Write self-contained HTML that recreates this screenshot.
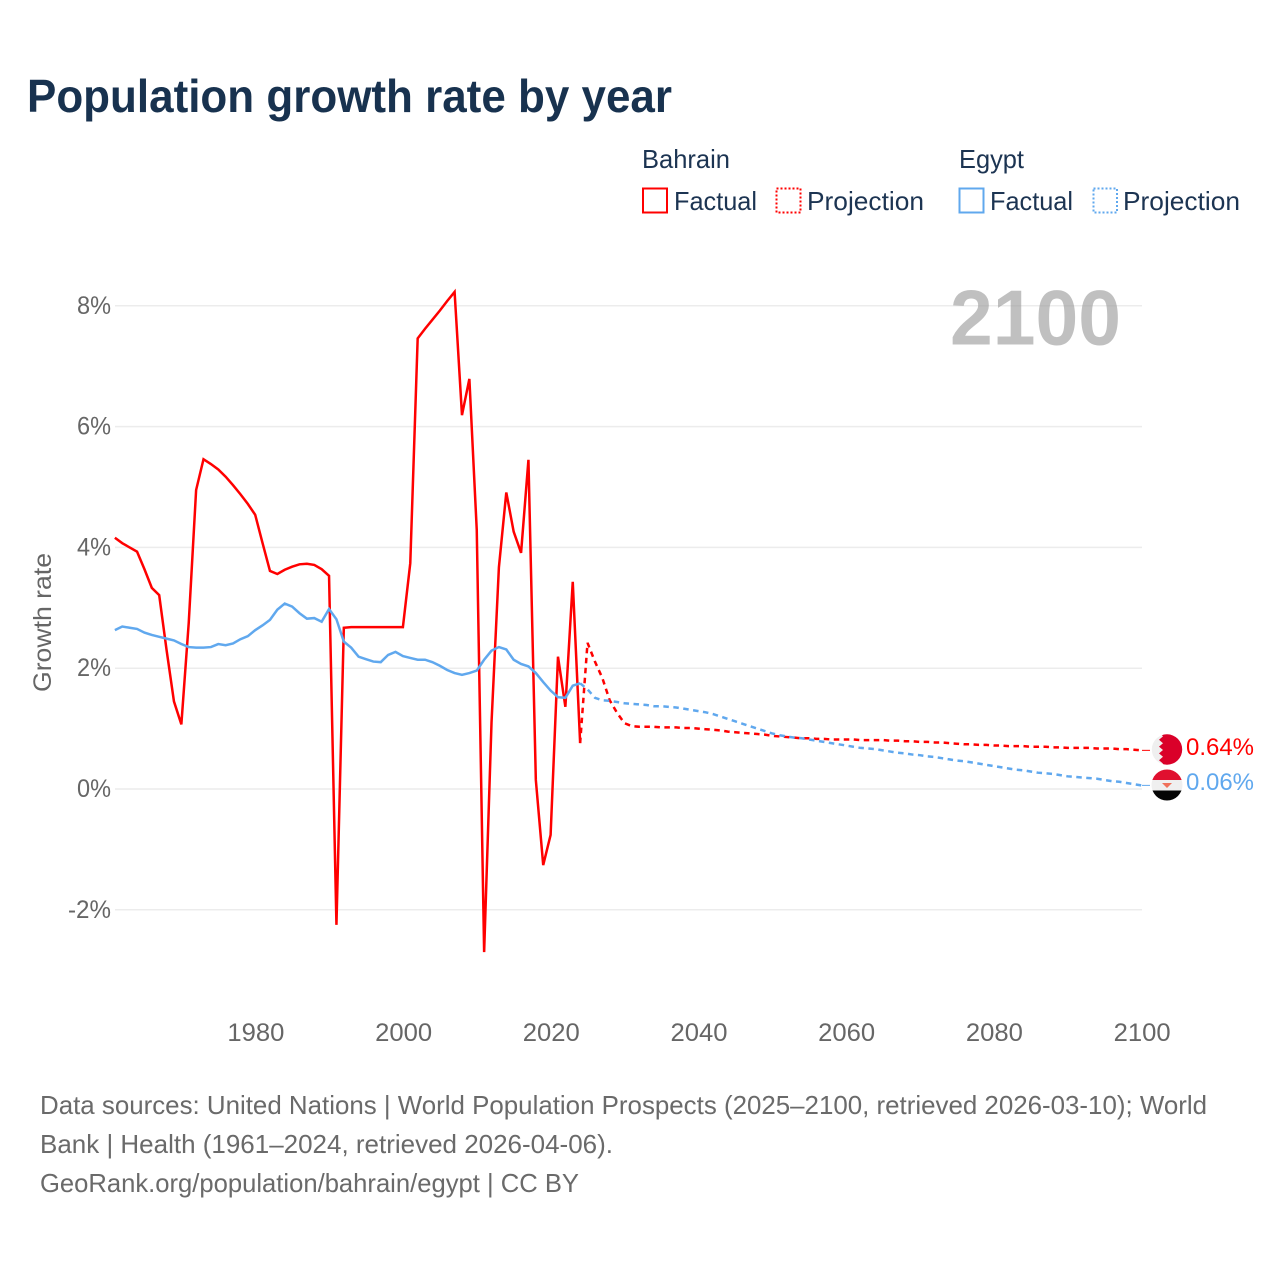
<!DOCTYPE html>
<html lang="en">
<head>
<meta charset="utf-8">
<title>Population growth rate by year</title>
<style>
html,body{margin:0;padding:0;background:#fff;}
svg{display:block;}
text{font-family:"Liberation Sans",sans-serif;}
</style>
</head>
<body>
<svg id="chart" xmlns="http://www.w3.org/2000/svg" width="1280" height="1280" viewBox="0 0 1280 1280">
  <rect x="0" y="0" width="1280" height="1280" fill="#fff"/>
  <text x="27" y="112" font-size="46.5" font-weight="bold" fill="#18324f" textLength="645" lengthAdjust="spacingAndGlyphs">Population growth rate by year</text>

  <g font-size="26" fill="#1c3452">
    <text x="642" y="168" textLength="88" lengthAdjust="spacingAndGlyphs">Bahrain</text>
    <rect x="643" y="188.5" width="24" height="24" fill="none" stroke="#ff0000" stroke-width="2"/>
    <text x="674" y="210" textLength="83" lengthAdjust="spacingAndGlyphs">Factual</text>
    <rect x="776.5" y="188.5" width="24" height="24" fill="none" stroke="#ff0000" stroke-width="2" stroke-dasharray="2 2"/>
    <text x="807" y="210" textLength="117" lengthAdjust="spacingAndGlyphs">Projection</text>
    <text x="959" y="168" textLength="65" lengthAdjust="spacingAndGlyphs">Egypt</text>
    <rect x="959.5" y="188.5" width="24" height="24" fill="none" stroke="#60a8ee" stroke-width="2"/>
    <text x="990" y="210" textLength="83" lengthAdjust="spacingAndGlyphs">Factual</text>
    <rect x="1093.5" y="188.5" width="23.5" height="24" fill="none" stroke="#60a8ee" stroke-width="2" stroke-dasharray="2 2"/>
    <text x="1123" y="210" textLength="117" lengthAdjust="spacingAndGlyphs">Projection</text>
  </g>

  <g id="grid"></g>
  <text x="950" y="344.5" font-size="78" font-weight="bold" fill="#999" fill-opacity="0.62" textLength="171" lengthAdjust="spacingAndGlyphs">2100</text>
  <g id="yticks"></g>
  <g id="xticks"></g>
  <text transform="translate(51,692) rotate(-90)" font-size="25" fill="#666" textLength="139" lengthAdjust="spacingAndGlyphs">Growth rate</text>

  <g id="series"></g>

  <defs>
    <clipPath id="flagClipB"><circle cx="1167" cy="749.5" r="15.2"/></clipPath>
    <clipPath id="flagClipE"><circle cx="1167" cy="785" r="15.5"/></clipPath>
  </defs>
  <g clip-path="url(#flagClipB)">
    <rect x="1150" y="733" width="34" height="34" fill="#efefef"/>
    <polygon points="1160,733 1184,733 1184,767 1160,767 1163,763.6 1159,760.2 1163,756.8 1159,753.4 1163,750 1159,746.6 1163,743.2 1159,739.8 1163,736.4" fill="#da0029"/>
  </g>
  <g clip-path="url(#flagClipE)">
    <rect x="1150" y="769" width="34" height="11" fill="#e0102f"/>
    <rect x="1150" y="780" width="34" height="10.5" fill="#efefef"/>
    <rect x="1150" y="790.5" width="34" height="11" fill="#050505"/>
    <polygon points="1162,783 1172,783 1169,786 1167,788 1165,786" fill="#f0705a"/>
  </g>
  <text id="labelB" x="1186" y="755" font-size="24.5" fill="#ff0000" textLength="68" lengthAdjust="spacingAndGlyphs"></text>
  <text id="labelE" x="1186" y="790" font-size="24.5" fill="#60a8ee" textLength="68" lengthAdjust="spacingAndGlyphs"></text>

  <g font-size="26" fill="#6a6a6a">
    <text x="40" y="1114" textLength="1167" lengthAdjust="spacingAndGlyphs">Data sources: United Nations | World Population Prospects (2025–2100, retrieved 2026-03-10); World</text>
    <text x="40" y="1153" textLength="573" lengthAdjust="spacingAndGlyphs">Bank | Health (1961–2024, retrieved 2026-04-06).</text>
    <text x="40" y="1192" textLength="539" lengthAdjust="spacingAndGlyphs">GeoRank.org/population/bahrain/egypt | CC BY</text>
  </g>
</svg>
<script>
const xTickYears = [1980, 2000, 2020, 2040, 2060, 2080, 2100];
const yTickValues = [-2, 0, 2, 4, 6, 8];
const factualStartYear = 1961;
const projectionStartYear = 2024;
const bahrainFactual = [4.16,4.07,4.00,3.93,3.64,3.33,3.21,2.30,1.45,1.07,2.75,4.95,5.46,5.38,5.29,5.17,5.03,4.88,4.72,4.54,4.07,3.61,3.56,3.63,3.68,3.72,3.73,3.71,3.64,3.53,-2.25,2.67,2.68,2.68,2.68,2.68,2.68,2.68,2.68,2.68,3.74,7.46,7.62,7.77,7.92,8.08,8.23,6.19,6.79,4.29,-2.70,1.10,3.67,4.91,4.26,3.91,5.45,0.15,-1.26,-0.76,2.19,1.36,3.43,0.76];
const bahrainProjection = [0.76,2.42,2.11,1.84,1.47,1.26,1.09,1.04,1.03,1.03,1.03,1.02,1.02,1.02,1.01,1.01,1.00,0.99,0.98,0.97,0.95,0.94,0.93,0.92,0.91,0.90,0.88,0.87,0.86,0.85,0.84,0.84,0.83,0.83,0.82,0.82,0.82,0.82,0.81,0.81,0.81,0.81,0.80,0.80,0.79,0.79,0.78,0.78,0.77,0.77,0.76,0.75,0.74,0.74,0.73,0.73,0.72,0.72,0.71,0.71,0.71,0.70,0.70,0.70,0.69,0.69,0.68,0.68,0.68,0.68,0.67,0.67,0.67,0.66,0.66,0.65,0.64];
const egyptFactual = [2.63,2.69,2.67,2.65,2.59,2.55,2.52,2.49,2.46,2.40,2.35,2.34,2.34,2.35,2.40,2.38,2.41,2.48,2.53,2.63,2.71,2.80,2.97,3.07,3.02,2.91,2.82,2.83,2.77,2.98,2.81,2.44,2.34,2.19,2.15,2.11,2.10,2.22,2.27,2.20,2.17,2.14,2.14,2.10,2.04,1.97,1.92,1.89,1.92,1.96,2.14,2.29,2.35,2.31,2.14,2.07,2.03,1.92,1.77,1.63,1.52,1.51,1.71,1.75];
const egyptProjection = [1.75,1.65,1.51,1.47,1.46,1.44,1.42,1.41,1.40,1.39,1.37,1.37,1.36,1.35,1.33,1.31,1.29,1.27,1.24,1.20,1.16,1.12,1.08,1.04,1.00,0.96,0.92,0.89,0.87,0.85,0.84,0.82,0.80,0.78,0.76,0.74,0.72,0.70,0.68,0.67,0.66,0.64,0.62,0.60,0.59,0.57,0.56,0.54,0.53,0.51,0.49,0.47,0.46,0.44,0.42,0.40,0.38,0.36,0.34,0.32,0.31,0.29,0.27,0.26,0.25,0.23,0.21,0.20,0.19,0.18,0.17,0.15,0.13,0.12,0.10,0.08,0.06];
const bahrainEndLabel = "0.64%";
const egyptEndLabel = "0.06%";

const SVGNS = "http://www.w3.org/2000/svg";
const RED = "#ff0000";
const BLUE = "#60a8ee";
const xLeft = 115;
const xRight = 1142;

function xScale(year) { return 255.2 + (year - 1980) * (1141.4 - 255.2) / 120; }
function yScale(value) { return 789 - value * 60.4; }

function makeEl(tag, attrs) {
  const el = document.createElementNS(SVGNS, tag);
  for (const key in attrs) el.setAttribute(key, attrs[key]);
  return el;
}

function pathFor(values, startYear) {
  return values.map(function (v, i) {
    return (i ? "L" : "M") + xScale(startYear + i).toFixed(2) + " " + yScale(v).toFixed(2);
  }).join(" ");
}

const gridGroup = document.getElementById("grid");
const yTickGroup = document.getElementById("yticks");
yTickValues.forEach(function (v) {
  const line = makeEl("line", { x1: xLeft, x2: xRight, y1: yScale(v), y2: yScale(v), stroke: "#ececec", "stroke-width": 1.5 });
  
  
  gridGroup.appendChild(line);
  const s = v + "%";
  const label = makeEl("text", { x: 111, y: yScale(v) + 8, "text-anchor": "end", "font-size": 25, fill: "#666", textLength: 34 + (s.length - 2) * 9, lengthAdjust: "spacingAndGlyphs" });
  label.textContent = s;
  
  
  yTickGroup.appendChild(label);
});

const xTickGroup = document.getElementById("xticks");
xTickYears.forEach(function (year) {
  const label = makeEl("text", { x: xScale(year) + 0.7, y: 1041, "text-anchor": "middle", "font-size": 25, fill: "#666", textLength: 57, lengthAdjust: "spacingAndGlyphs" });
  label.textContent = year;
  
  
  xTickGroup.appendChild(label);
});

const seriesGroup = document.getElementById("series");

const bahrainLine = makeEl("path", { d: pathFor(bahrainFactual, factualStartYear), fill: "none", stroke: RED, "stroke-width": 2.5, "stroke-linejoin": "miter" });


seriesGroup.appendChild(bahrainLine);

const bahrainDash = makeEl("path", { d: pathFor(bahrainProjection, projectionStartYear), fill: "none", stroke: RED, "stroke-width": 2.5, "stroke-dasharray": "5.5 4.5" });


seriesGroup.appendChild(bahrainDash);

const egyptLine = makeEl("path", { d: pathFor(egyptFactual, factualStartYear), fill: "none", stroke: BLUE, "stroke-width": 2.5 });


seriesGroup.appendChild(egyptLine);

const egyptDash = makeEl("path", { d: pathFor(egyptProjection, projectionStartYear), fill: "none", stroke: BLUE, "stroke-width": 2.5, "stroke-dasharray": "5.5 4.5" });


seriesGroup.appendChild(egyptDash);

const bahrainLast = bahrainProjection[bahrainProjection.length - 1];
const bahrainConnector = makeEl("line", { x1: xRight, x2: 1150, y1: yScale(bahrainLast), y2: yScale(bahrainLast), stroke: RED, "stroke-width": 1 });


seriesGroup.appendChild(bahrainConnector);

const egyptLast = egyptProjection[egyptProjection.length - 1];
const egyptConnector = makeEl("line", { x1: xRight, x2: 1150, y1: yScale(egyptLast), y2: yScale(egyptLast), stroke: BLUE, "stroke-width": 1 });


seriesGroup.appendChild(egyptConnector);

document.getElementById("labelB").textContent = bahrainEndLabel;
document.getElementById("labelE").textContent = egyptEndLabel;
</script>
</body>
</html>
